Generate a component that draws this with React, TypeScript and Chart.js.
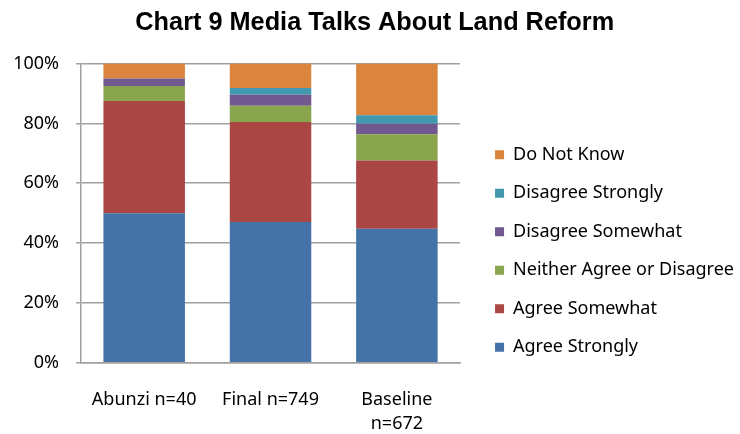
import React, { useEffect, useRef } from "react";
import { Chart, registerables } from "chart.js";

Chart.register(...registerables);

const categories: (string | string[])[] = ["Abunzi n=40", "Final n=749", ["Baseline", "n=672"]];
const agreeStrongly = [50, 47.0, 44.8];
const agreeSomewhat = [37.5, 33.5, 22.8];
const neither = [5, 5.4, 8.8];
const disagreeSomewhat = [2.5, 3.7, 3.5];
const disagreeStrongly = [0, 2.2, 2.8];
const doNotKnow = [5, 8.2, 17.3];
const yTicks = [0, 20, 40, 60, 80, 100];

const FONT = "'Noto Sans', 'Open Sans', sans-serif";
const TITLE_FONT = "'Liberation Sans', Arial, sans-serif";

const layoutShift = {
  id: "layoutShift",
  afterLayout(chart: any) {
    const lg = chart.legend;
    if (lg) {
      lg.left += 14.5;
      lg.right += 14.5;
      lg.top += 34;
      lg.bottom += 34;
    }
    const t = chart.titleBlock;
    if (t) {
      t.left += 10;
      t.right += 10;
    }
  },
};

export default function App() {
  const ref = useRef<HTMLCanvasElement | null>(null);
  useEffect(() => {
    document.body.style.margin = "0";
    const ctx = ref.current!;
    const chart = new Chart(ctx, {
      type: "bar",
      data: {
        labels: categories,
        datasets: [
          { label: "Agree Strongly", data: agreeStrongly, backgroundColor: "#4572A7" },
          { label: "Agree Somewhat", data: agreeSomewhat, backgroundColor: "#AA4643" },
          { label: "Neither Agree or Disagree", data: neither, backgroundColor: "#89A54E" },
          { label: "Disagree Somewhat", data: disagreeSomewhat, backgroundColor: "#71588F" },
          { label: "Disagree Strongly", data: disagreeStrongly, backgroundColor: "#4198AF" },
          { label: "Do Not Know", data: doNotKnow, backgroundColor: "#DB843D" },
        ],
      },
      options: {
        animation: false,
        responsive: false,
        maintainAspectRatio: false,
        datasets: { bar: { categoryPercentage: 1, barPercentage: 0.645 } },
        layout: { padding: { top: 0, right: 10.5, left: 0, bottom: 0 } },
        plugins: {
          title: {
            display: true,
            text: "Chart 9 Media Talks About Land Reform",
            font: { family: TITLE_FONT, size: 25.3, weight: "bold" },
            color: "#000",
            padding: { top: 8, bottom: 25.2 },
          },
          legend: {
            position: "right",
            reverse: true,
            maxWidth: 400,
            labels: {
              boxWidth: 9,
              boxHeight: 9,
              padding: 20.5,
              font: { family: FONT, size: 18 },
              color: "#000",
            },
          },
          tooltip: { enabled: false },
        },
        scales: {
          x: {
            stacked: true,
            grid: { display: false },
            border: { color: "#a0a0a0", width: 1.5 },
            afterFit: (axis: any) => {
              axis.height = 71.3;
            },
            ticks: {
              font: { family: FONT, size: 18, lineHeight: 1.35 },
              color: "#000",
              padding: 17,
            },
          },
          y: {
            stacked: true,
            min: 0,
            max: 100,
            afterBuildTicks: (axis: any) => {
              axis.ticks = yTicks.map((v) => ({ value: v }));
            },
            afterFit: (axis: any) => {
              axis.width = 81;
            },
            grid: { color: "#a0a0a0", tickLength: 5, lineWidth: 1.5 },
            border: { color: "#a0a0a0", width: 1.5 },
            ticks: {
              font: { family: FONT, size: 18 },
              color: "#000",
              padding: 17,
              callback: (v: any) => v + "%",
            },
          },
        },
      },
      plugins: [layoutShift],
    });
    return () => chart.destroy();
  }, []);
  return (
    <div style={{ width: 740, height: 434 }}>
      <canvas ref={ref} width={740} height={434} style={{ display: "block" }} />
    </div>
  );
}
